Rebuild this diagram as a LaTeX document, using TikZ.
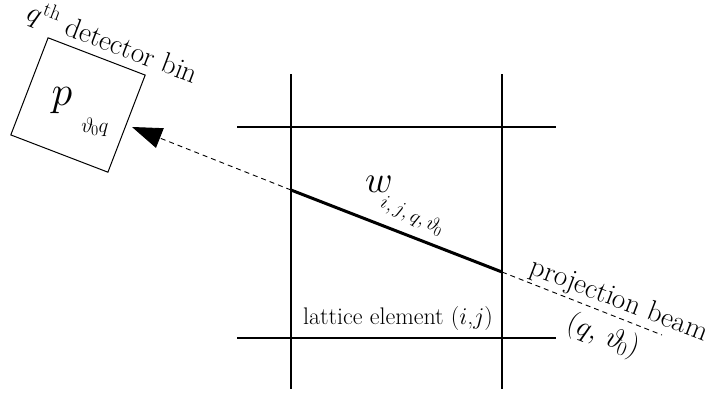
\RequirePackage{fix-cm}
\documentclass[tikz,border=0pt]{standalone}
\usetikzlibrary{arrows.meta}
\begin{document}
\begin{tikzpicture}[x=1pt,y=-1pt,
  gridline/.style={line width=1.1pt,black},
  beamline/.style={line width=3pt,black},
  dashline/.style={line width=0.9pt,dash pattern=on 5pt off 4pt},
  lbl/.style={inner sep=0pt,font=\fontsize{29}{31}\selectfont},
  binbox/.style={draw,line width=1pt,minimum size=104pt,inner sep=0pt,rotate=-21}]
\useasboundingbox (0,0) rectangle (711,394);
% lattice
\coordinate (v1t) at (291,74); \coordinate (v1b) at (291,389);
\coordinate (v2t) at (502,74); \coordinate (v2b) at (502,389);
\coordinate (h1l) at (237,127); \coordinate (h1r) at (556,127);
\coordinate (h2l) at (237,338); \coordinate (h2r) at (556,338);
\draw[gridline] (v1t) -- (v1b);
\draw[gridline] (v2t) -- (v2b);
\draw[gridline,line width=1.6pt] (h1l) -- (h1r);
\draw[gridline] (h2l) -- (h2r);
% beam
\coordinate (A) at (291,190);
\coordinate (B) at (502,272);
\coordinate (E) at (662,335);
\coordinate (T) at (132,127);
\draw[beamline] (A) -- (B);
\draw[dashline] (B) -- (E);
\draw[dashline,-{Triangle[length=30pt,width=21pt]}] (A) -- (T);
% detector bin
\node[binbox] (bin) at (78,105) {};
\node[lbl,rotate=-21] (binlbl) at (113,43) {$q^{\mathrm{th}}$ detector bin};
\node[inner sep=0pt] (p) at (62,101) {\fontsize{42}{42}\selectfont$p$};
\node[inner sep=0pt] (psub) at (95,127) {\fontsize{21}{21}\selectfont$\vartheta_{\!0}q$};
% weight
\node[inner sep=0pt] (w) at (379,184) {\fontsize{38}{40}\selectfont$w$};
\node[inner sep=0pt,rotate=-25] (wsub) at (412,216) {\fontsize{20}{22}\selectfont$i,j,q,\vartheta_{\!0}$};
% labels
\node[lbl,rotate=-21] (pb) at (619,301) {projection beam};
\node[lbl,rotate=-21] (qt) at (603,336) {$(q,\,\vartheta_{\!0})$};
\node[inner sep=0pt,font=\fontsize{24}{27}\selectfont] (lat) at (398,319) {lattice element ($i$,$j$)};
\end{tikzpicture}
\end{document}
